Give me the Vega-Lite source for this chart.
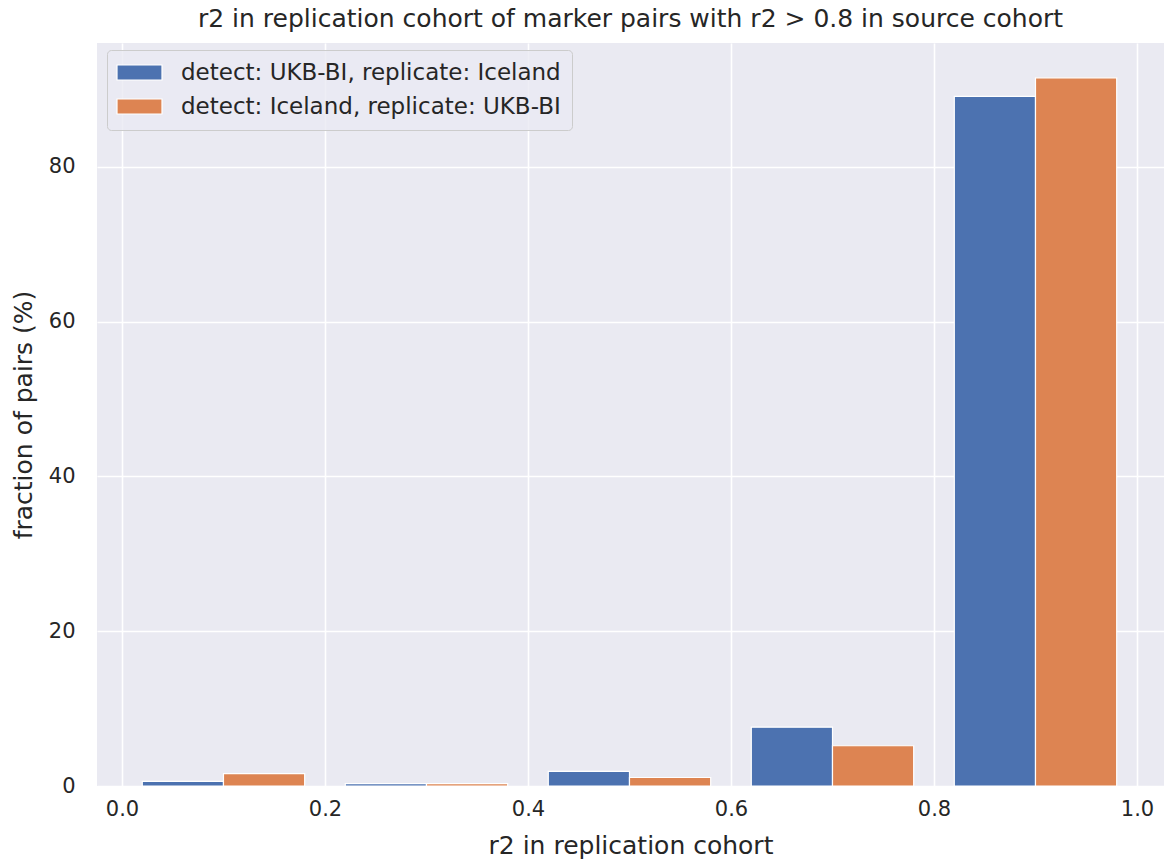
{
  "$schema": "https://vega.github.io/schema/vega-lite/v6.json",
  "width": 1067,
  "height": 743,
  "autosize": {"type": "none"},
  "padding": {"left": 97, "top": 43, "right": 0, "bottom": 77},
  "background": "white",
  "title": {
    "text": "r2 in replication cohort of marker pairs with r2 > 0.8 in source cohort",
    "font": "DejaVu Sans",
    "fontSize": 25,
    "fontWeight": "normal",
    "color": "#262626",
    "anchor": "middle",
    "offset": 11
  },
  "data": {
    "values": [
      {"series": "detect: UKB-BI, replicate: Iceland", "bar_lo": 0.02, "bar_hi": 0.10, "pct": 0.6},
      {"series": "detect: UKB-BI, replicate: Iceland", "bar_lo": 0.22, "bar_hi": 0.30, "pct": 0.3},
      {"series": "detect: UKB-BI, replicate: Iceland", "bar_lo": 0.42, "bar_hi": 0.50, "pct": 1.9},
      {"series": "detect: UKB-BI, replicate: Iceland", "bar_lo": 0.62, "bar_hi": 0.70, "pct": 7.6},
      {"series": "detect: UKB-BI, replicate: Iceland", "bar_lo": 0.82, "bar_hi": 0.90, "pct": 89.1},
      {"series": "detect: Iceland, replicate: UKB-BI", "bar_lo": 0.10, "bar_hi": 0.18, "pct": 1.6},
      {"series": "detect: Iceland, replicate: UKB-BI", "bar_lo": 0.30, "bar_hi": 0.38, "pct": 0.3},
      {"series": "detect: Iceland, replicate: UKB-BI", "bar_lo": 0.50, "bar_hi": 0.58, "pct": 1.1},
      {"series": "detect: Iceland, replicate: UKB-BI", "bar_lo": 0.70, "bar_hi": 0.78, "pct": 5.2},
      {"series": "detect: Iceland, replicate: UKB-BI", "bar_lo": 0.90, "bar_hi": 0.98, "pct": 91.5}
    ]
  },
  "mark": {"type": "bar", "stroke": "white", "strokeWidth": 1.2, "clip": true},
  "encoding": {
    "x": {
      "field": "bar_lo",
      "type": "quantitative",
      "scale": {"domain": [-0.0246, 1.0266], "nice": false, "zero": false},
      "axis": {"values": [0, 0.2, 0.4, 0.6, 0.8, 1.0], "format": ".1f", "title": "r2 in replication cohort"}
    },
    "x2": {"field": "bar_hi"},
    "y": {
      "field": "pct",
      "type": "quantitative",
      "scale": {"domain": [0, 96.0], "nice": false},
      "axis": {"values": [0, 20, 40, 60, 80], "title": "fraction of pairs (%)"}
    },
    "y2": {"datum": 0},
    "color": {
      "field": "series",
      "type": "nominal",
      "scale": {
        "domain": ["detect: UKB-BI, replicate: Iceland", "detect: Iceland, replicate: UKB-BI"],
        "range": ["#4c72b0", "#dd8452"]
      },
      "legend": {
        "title": null,
        "orient": "none",
        "legendX": 10,
        "legendY": 7,
        "symbolType": "M-1.667,-1H4.333V1H-1.667Z",
        "symbolSize": 225,
        "symbolStrokeColor": "white",
        "symbolStrokeWidth": 1.2,
        "symbolOpacity": 1,
        "labelFont": "DejaVu Sans",
        "labelFontSize": 23,
        "labelColor": "#262626",
        "labelOffset": 40,
        "labelLimit": 600,
        "rowPadding": 10,
        "padding": 11,
        "fillColor": "rgba(234,234,242,0.8)",
        "strokeColor": "#cccccc",
        "cornerRadius": 4
      }
    }
  },
  "config": {
    "view": {"fill": "#eaeaf2", "stroke": null},
    "axis": {
      "grid": true,
      "gridColor": "white",
      "gridWidth": 1.6,
      "domain": false,
      "ticks": false,
      "labelFont": "DejaVu Sans",
      "labelFontSize": 21,
      "labelColor": "#262626",
      "titleFont": "DejaVu Sans",
      "titleFontSize": 25,
      "titleFontWeight": "normal",
      "titleColor": "#262626"
    },
    "axisX": {"labelPadding": 12, "titlePadding": 14, "labelFlush": false},
    "axisY": {"labelPadding": 22, "titlePadding": 12}
  }
}
